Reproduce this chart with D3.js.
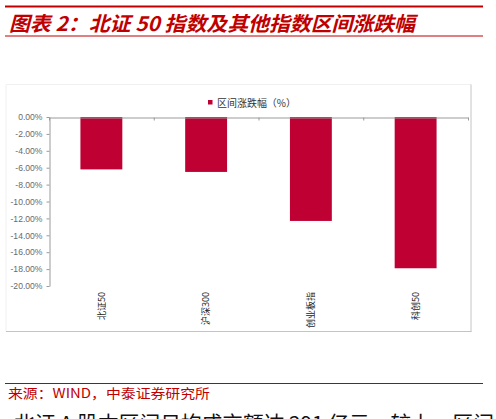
<!DOCTYPE html>
<html>
<head>
<meta charset="utf-8">
<script src="https://cdn.jsdelivr.net/npm/d3@7"></script>
<style>
  html, body { margin: 0; padding: 0; background: #fff; overflow: hidden; }
</style>
</head>
<body>
<div id="container"></div>
<script>
const w = 496;
const h = 419;

// chart data
const categories = ["北证50", "沪深300", "创业板指", "科创50"];
const changes = [-6.2, -6.5, -12.3, -17.9];
const yTicks = [0, -2, -4, -6, -8, -10, -12, -14, -16, -18, -20];
const seriesName = "区间涨跌幅（%）";
const titleText = "图表 2：北证 50 指数及其他指数区间涨跌幅";
const sourceText = "来源：WIND，中泰证券研究所";
const bodyText = "北证 A 股本区间日均成交额达 291 亿元，较上一区间";

const red = "#c00000";
const barColor = "#be0032";
const cjk = "'Noto Sans CJK SC', 'Noto Sans', sans-serif";

const svg = d3.select("#container")
  .append("svg")
  .attr("width", w)
  .attr("height", h);

// title block
svg.append("line")
  .attr("x1", 5).attr("x2", 483).attr("y1", 6.5).attr("y2", 6.5)
  .attr("stroke", red).attr("stroke-width", 2.2);
svg.append("text")
  .attr("x", 9).attr("y", 31)
  .attr("font-family", cjk)
  .attr("font-size", 20)
  .attr("font-weight", "bold")
  .attr("font-style", "italic")
  .attr("fill", red)
  .attr("textLength", 406)
  .attr("lengthAdjust", "spacingAndGlyphs")
  .text(titleText);
svg.append("line")
  .attr("x1", 5).attr("x2", 483).attr("y1", 36).attr("y2", 36)
  .attr("stroke", red).attr("stroke-width", 1);

// chart frame (light top/left, darker right/bottom)
svg.append("line").attr("x1", 6).attr("x2", 471).attr("y1", 84.5).attr("y2", 84.5)
  .attr("stroke", "#f0f0f0").attr("stroke-width", 1);
svg.append("line").attr("x1", 6).attr("x2", 6).attr("y1", 84.5).attr("y2", 331.5)
  .attr("stroke", "#f0f0f0").attr("stroke-width", 1);
svg.append("line").attr("x1", 471).attr("x2", 471).attr("y1", 84.5).attr("y2", 332)
  .attr("stroke", "#c4c4c4").attr("stroke-width", 1);
svg.append("line").attr("x1", 6).attr("x2", 471.5).attr("y1", 331.5).attr("y2", 331.5)
  .attr("stroke", "#c4c4c4").attr("stroke-width", 1);

// scales
const scalex = d3.scaleBand()
  .domain(categories)
  .range([49, 468])
  .paddingInner(0.6)
  .paddingOuter(0.3);

const edges = d3.scaleLinear()
  .domain([0, categories.length])
  .range([49, 468]);

const scaley = d3.scaleLinear()
  .domain([-20, 0])
  .range([286, 117]);

// legend
svg.append("rect")
  .attr("x", 208).attr("y", 100).attr("width", 4.5).attr("height", 4.5)
  .attr("fill", barColor);
svg.append("text")
  .attr("x", 217).attr("y", 106.5)
  .attr("font-family", cjk)
  .attr("font-size", 10)
  .attr("fill", "#333")
  .attr("textLength", 79)
  .attr("lengthAdjust", "spacingAndGlyphs")
  .text(seriesName);

// bars
svg.selectAll("rect.bar")
  .data(changes)
  .enter()
  .append("rect")
  .attr("class", "bar")
  .attr("x", (d, idx) => scalex(categories[idx]))
  .attr("y", scaley(0))
  .attr("width", scalex.bandwidth())
  .attr("height", d => scaley(d) - scaley(0))
  .attr("fill", barColor);

// y axis
const axisy = d3.axisLeft(scaley)
  .tickValues(yTicks)
  .tickSize(3)
  .tickSizeOuter(0)
  .tickPadding(4)
  .tickFormat(d => (d === 0 ? 0 : d).toFixed(2) + "%");

const yAxisGroup = svg.append("g")
  .attr("transform", "translate(49.5,0)")
  .call(axisy);
yAxisGroup.selectAll("path, line").attr("stroke", "#9a9a9a");
yAxisGroup.selectAll("text")
  .attr("font-family", "'Liberation Sans', Arial, sans-serif")
  .attr("font-size", 8.6)
  .attr("fill", "#6a6a6a");

// x axis at zero with ticks on category edges
const axisx = d3.axisBottom(edges)
  .tickValues(d3.range(categories.length + 1))
  .tickSize(3)
  .tickSizeOuter(0)
  .tickFormat("");

const xAxisGroup = svg.append("g")
  .attr("transform", "translate(0," + (scaley(0) + 0.5) + ")")
  .call(axisx);
xAxisGroup.selectAll("path, line").attr("stroke", "#9a9a9a");

// category labels, rotated
svg.selectAll("text.cat")
  .data(categories)
  .enter()
  .append("text")
  .attr("class", "cat")
  .attr("transform", d => "translate(" + (scalex(d) + scalex.bandwidth() / 2) + ",292) rotate(-90)")
  .attr("text-anchor", "end")
  .attr("dy", "0.35em")
  .attr("font-family", cjk)
  .attr("font-size", 9)
  .attr("fill", "#222")
  .text(d => d);

// source block
svg.append("line")
  .attr("x1", 5).attr("x2", 483).attr("y1", 383.5).attr("y2", 383.5)
  .attr("stroke", red).attr("stroke-width", 1);
svg.append("text")
  .attr("x", 8).attr("y", 398)
  .attr("font-family", cjk)
  .attr("font-size", 13)
  .attr("fill", red)
  .attr("textLength", 202)
  .attr("lengthAdjust", "spacingAndGlyphs")
  .text(sourceText);

// following paragraph, cut off at the bottom edge as in the source page
svg.append("text")
  .attr("x", 14).attr("y", 431)
  .attr("font-family", cjk)
  .attr("font-size", 20)
  .attr("fill", "#111")
  .attr("textLength", 480)
  .attr("lengthAdjust", "spacingAndGlyphs")
  .text(bodyText);
</script>
</body>
</html>
